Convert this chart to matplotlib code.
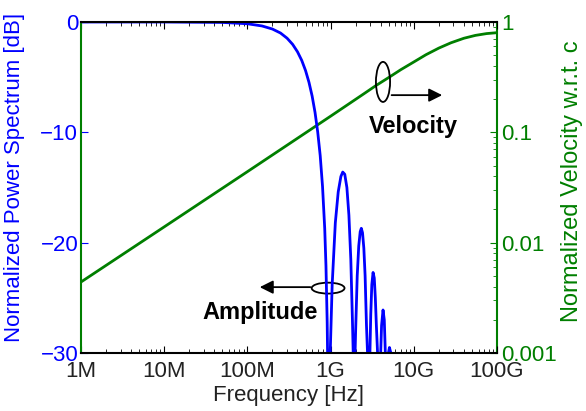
import numpy as np
import matplotlib
matplotlib.use('Agg')
import matplotlib.pyplot as plt
from matplotlib.patches import Ellipse

plt.rcParams['font.family'] = ['Liberation Sans', 'DejaVu Sans']

# 振幅谱（归一化功率谱，dB），频率单位 GHz，读自原图
amp_freq_ghz = [0.001, 0.01, 0.05, 0.10, 0.15, 0.20, 0.25, 0.30, 0.35, 0.40,
                0.45, 0.50, 0.55, 0.60, 0.65, 0.70, 0.75, 0.80, 0.85, 0.88,
                0.91, 0.92, 0.95,
                0.99, 1.045, 1.14, 1.235, 1.33, 1.40, 1.48, 1.57, 1.66, 1.75,
                1.83, 1.87, 1.90,
                1.97, 2.00, 2.09, 2.18, 2.27, 2.34, 2.42, 2.51, 2.60, 2.70,
                2.78, 2.85,
                2.97, 3.04, 3.13, 3.24, 3.35, 3.45, 3.55, 3.67, 3.80,
                4.00, 4.10, 4.27, 4.42, 4.55, 4.75,
                4.95, 5.10, 5.30, 5.70, 100.0]
amp_db = [0.0, 0.0, -0.04, -0.16, -0.36, -0.64, -1.0, -1.47, -2.03, -2.7,
          -3.48, -4.4, -5.47, -6.71, -8.19, -9.96, -12.1, -14.9, -18.7, -22.1,
          -27.2, -30.0, -40.0,
          -30.0, -23.8, -18.2, -15.4, -14.0, -13.6, -13.8, -15.0, -17.5, -21.5,
          -27.0, -30.0, -40.0,
          -30.0, -28.0, -23.0, -20.3, -19.0, -18.7, -19.1, -20.5, -23.0, -27.5,
          -30.0, -40.0,
          -30.0, -26.5, -23.8, -22.7, -23.2, -25.0, -27.5, -30.0, -40.0,
          -30.0, -27.5, -26.1, -27.0, -30.0, -40.0,
          -30.0, -29.5, -30.0, -40.0, -40.0]

# 归一化速度 (相对 c)
vel_freq_ghz = [0.001, 0.01, 0.1, 1.0, 1.5, 2.5, 3.5, 5.0, 7.0, 10.0, 14.0,
                20.0, 28.0, 40.0, 55.0, 75.0, 100.0]
vel = [0.0044, 0.0139, 0.044, 0.14, 0.172, 0.223, 0.265, 0.314, 0.37, 0.434,
       0.505, 0.58, 0.648, 0.712, 0.756, 0.785, 0.80]

xticks = [1e6, 1e7, 1e8, 1e9, 1e10, 1e11]
xticklabels = ['1M', '10M', '100M', '1G', '10G', '100G']
yticks_left = [0, -10, -20, -30]
yticks_right = [1e-3, 1e-2, 1e-1, 1]
yticklabels_right = ['0.001', '0.01', '0.1', '1']

blue = '#0000ff'
green = '#007f00'
txt = '#222222'

fig = plt.figure(figsize=(5.86, 4.11), dpi=100)
ax = fig.add_axes([0.1382, 0.1411, 0.7099, 0.8054])
ax2 = ax.twinx()

ax.set_zorder(ax2.get_zorder() + 1)
ax.patch.set_visible(False)

ax.plot(np.array(amp_freq_ghz) * 1e9, amp_db, color=blue, lw=2.0)
ax2.plot(np.array(vel_freq_ghz) * 1e9, vel, color=green, lw=2.0)

ax.set_xscale('log')
ax.set_xlim(1e6, 1e11)
ax.set_ylim(-30, 0)
ax2.set_yscale('log')
ax2.set_ylim(1e-3, 1)

ax.set_xticks(xticks)
ax.set_xticklabels(xticklabels)
ax.set_yticks(yticks_left)
ax.set_yticklabels(['0', '\u221210', '\u221220', '\u221230'])
ax2.set_yticks(yticks_right)
ax2.set_yticklabels(yticklabels_right)

ax.tick_params(axis='x', which='both', direction='in', top=True, colors='k',
               labelcolor=txt, labelsize=16, pad=6)
ax.tick_params(axis='x', which='major', length=5)
ax.tick_params(axis='x', which='minor', length=3)
ax.tick_params(axis='y', direction='in', colors=blue, labelsize=16, length=5, pad=2)
ax2.tick_params(axis='y', which='both', direction='in', colors=green, labelsize=16, pad=3)
ax2.tick_params(axis='y', which='major', length=5)
ax2.tick_params(axis='y', which='minor', length=3)

for s in ['top', 'bottom']:
    ax.spines[s].set_color('k')
    ax.spines[s].set_linewidth(1.5)
ax.spines['left'].set_color(green)
ax.spines['left'].set_linewidth(1.5)
ax.spines['right'].set_visible(False)
for s in ['top', 'bottom', 'left']:
    ax2.spines[s].set_visible(False)
ax2.spines['right'].set_color(green)
ax2.spines['right'].set_linewidth(1.5)

ax.set_xlabel('Frequency [Hz]', fontsize=16, color=txt)
ax.xaxis.set_label_coords(0.5, -0.098)
ax.set_ylabel('Normalized Power Spectrum [dB]', fontsize=16, color=blue)
ax.yaxis.set_label_coords(-0.134, 0.53)
ax2.set_ylabel('Normalized Velocity w.r.t. c', fontsize=17, color=green)
ax2.yaxis.set_label_coords(1.155, 0.52)

# 标注
ax.text(0.798, 0.683, 'Velocity', transform=ax.transAxes, ha='center', va='center',
        fontsize=17, fontweight='bold', color='k')
ax.annotate('', xy=(0.875, 0.779), xytext=(0.740, 0.779), xycoords='axes fraction',
            arrowprops=dict(arrowstyle='-|>', color='k', lw=1.3, mutation_scale=20))
ax.add_patch(Ellipse((0.726, 0.819), 0.034, 0.121, transform=ax.transAxes,
                     fill=False, lw=1.3, color='k'))

ax.text(0.430, 0.121, 'Amplitude', transform=ax.transAxes, ha='center', va='center',
        fontsize=17, fontweight='bold', color='k')
ax.annotate('', xy=(0.423, 0.199), xytext=(0.558, 0.199), xycoords='axes fraction',
            arrowprops=dict(arrowstyle='-|>', color='k', lw=1.3, mutation_scale=20))
ax.add_patch(Ellipse((0.594, 0.196), 0.079, 0.033, transform=ax.transAxes,
                     fill=False, lw=1.3, color='k'))

fig.savefig('out.png', dpi=100)
